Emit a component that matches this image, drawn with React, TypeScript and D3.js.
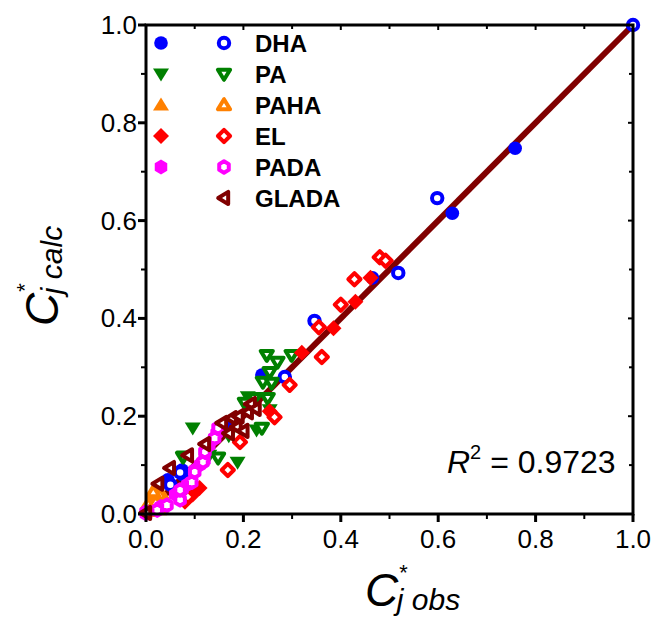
import * as d3 from "d3";

type Pt = [number, number];

// DHA
const dhaFilled: Pt[] = [[0.758, 0.748], [0.629, 0.615], [0.465, 0.483], [0.074, 0.09], [0.045, 0.07], [0.076, 0.08], [0.172, 0.178], [0.238, 0.284]];
const dhaOpen: Pt[] = [[1, 1], [0.598, 0.646], [0.518, 0.493], [0.346, 0.395], [0.285, 0.28], [0.07, 0.085], [0.05, 0.06]];
// PA
const paFilled: Pt[] = [[0.096, 0.176], [0.188, 0.106], [0.254, 0.213], [0.209, 0.24], [0.17, 0.16], [0.13, 0.12], [0.227, 0.172]];
const paOpen: Pt[] = [[0.248, 0.325], [0.299, 0.325], [0.27, 0.311], [0.254, 0.29], [0.24, 0.27], [0.258, 0.268], [0.203, 0.227], [0.223, 0.237], [0.25, 0.237], [0.238, 0.176], [0.148, 0.115], [0.076, 0.117]];
// PAHA
const pahaFilled: Pt[] = [[0.005, 0.01], [0.01, 0.02], [0.015, 0.03], [0.02, 0.04], [0.025, 0.035], [0.008, 0.005], [0.03, 0.045], [0.012, 0.012], [0.035, 0.02], [0.04, 0.03]];
const pahaOpen: Pt[] = [[0.005, 0.02], [0.02, 0.025], [0.028, 0.04], [0.015, 0.045], [0.03, 0.01]];
// EL
const elFilled: Pt[] = [[0.385, 0.38], [0.43, 0.434], [0.461, 0.483], [0.32, 0.33], [0.11, 0.053], [0.096, 0.04], [0.08, 0.025], [0.254, 0.21]];
const elOpen: Pt[] = [[0.48, 0.525], [0.492, 0.518], [0.428, 0.48], [0.4, 0.428], [0.355, 0.382], [0.361, 0.321], [0.295, 0.264], [0.264, 0.198], [0.193, 0.147], [0.168, 0.09], [0.086, 0.035]];
// PADA
const padaFilled: Pt[] = [[0.0, 0.0], [0.03, 0.015], [0.06, 0.04], [0.085, 0.06], [0.1, 0.09], [0.12, 0.11], [0.13, 0.14], [0.145, 0.165], [0.11, 0.1], [0.075, 0.05]];
const padaOpen: Pt[] = [[0.0, 0.004], [0.023, 0.008], [0.043, 0.018], [0.07, 0.029], [0.07, 0.049], [0.094, 0.065], [0.1, 0.086], [0.117, 0.106], [0.121, 0.127], [0.141, 0.155], [0.148, 0.176]];
// GLADA
const gladaOpen: Pt[] = [[0, 0.002], [0.025, 0.062], [0.049, 0.094], [0.086, 0.12], [0.121, 0.143], [0.156, 0.186], [0.176, 0.196], [0.186, 0.178], [0.19, 0.2], [0.209, 0.208], [0.2, 0.17], [0.215, 0.225], [0.17, 0.165], [0.225, 0.215]];

const ticks = [0, 0.2, 0.4, 0.6, 0.8, 1.0];
const minorTicks = [0.1, 0.3, 0.5, 0.7, 0.9];
const rSquared = "0.9723";

type Shape = "circle" | "down" | "up" | "diamond" | "hex" | "left";

const series: { name: string; color: string; shape: Shape; filled: Pt[] | null; open: Pt[] }[] = [
  { name: "DHA", color: "#0000ff", shape: "circle", filled: dhaFilled, open: dhaOpen },
  { name: "PA", color: "#008000", shape: "down", filled: paFilled, open: paOpen },
  { name: "PAHA", color: "#ff8000", shape: "up", filled: pahaFilled, open: pahaOpen },
  { name: "EL", color: "#ff0000", shape: "diamond", filled: elFilled, open: elOpen },
  { name: "PADA", color: "#ff00ff", shape: "hex", filled: padaFilled, open: padaOpen },
  { name: "GLADA", color: "#800000", shape: "left", filled: null, open: gladaOpen },
];

const W = 655, H = 619;
const x = d3.scaleLinear().domain([0, 1]).range([146, 633]);
const y = d3.scaleLinear().domain([0, 1]).range([514, 25]);
const font = "'Liberation Sans', Arial, sans-serif";

function shapePath(shape: Shape, s: number): string {
  const p = (pts: number[][]) => "M" + pts.map((q) => q.join(",")).join("L") + "Z";
  switch (shape) {
    case "circle":
      return d3.arc()({ innerRadius: 0, outerRadius: s * 0.9, startAngle: 0, endAngle: 2 * Math.PI }) as string;
    case "down":
      return p([[-s * 1.05, -s * 0.72], [s * 1.05, -s * 0.72], [0, s * 1.0]]);
    case "up":
      return p([[-s * 1.05, s * 0.72], [s * 1.05, s * 0.72], [0, -s * 1.0]]);
    case "left":
      return p([[s * 0.72, -s * 1.05], [s * 0.72, s * 1.05], [-s * 1.0, 0]]);
    case "diamond":
      return p([[0, -s * 1.05], [s * 1.05, 0], [0, s * 1.05], [-s * 1.05, 0]]);
    case "hex":
      return p(d3.range(6).map((i) => {
        const a = (Math.PI / 3) * i;
        return [Math.sin(a) * s * 0.95, -Math.cos(a) * s];
      }));
  }
}

function Marker({ shape, color, open, cx, cy }: { shape: Shape; color: string; open: boolean; cx: number; cy: number }) {
  const s = open ? 5.8 : 7.6;
  return (
    <path
      d={shapePath(shape, s)}
      transform={`translate(${cx},${cy})`}
      fill={open ? "#fff" : color}
      stroke={open ? color : "none"}
      strokeWidth={open ? 4 : 0}
      strokeLinejoin="round"
    />
  );
}

export default function App() {
  const legendRows = [43, 74, 105, 136, 167, 198];
  return (
    <svg width={W} height={H} style={{ position: "absolute", left: 0, top: 0, background: "#fff" }} fontFamily={font}>
      {/* identity line */}
      <line x1={x(0)} y1={y(0)} x2={x(1)} y2={y(1)} stroke="#800000" strokeWidth={6} />

      {series.map((sr) => (
        <g key={sr.name}>
          {sr.filled && sr.filled.map((d, i) => (
            <Marker key={"f" + i} shape={sr.shape} color={sr.color} open={false} cx={x(d[0])} cy={y(d[1])} />
          ))}
          {sr.open.map((d, i) => (
            <Marker key={"o" + i} shape={sr.shape} color={sr.color} open={true} cx={x(d[0])} cy={y(d[1])} />
          ))}
        </g>
      ))}

      {/* frame */}
      <rect x={x(0)} y={y(1)} width={x(1) - x(0)} height={y(0) - y(1)} fill="none" stroke="#000" strokeWidth={3} />

      {/* bottom / left ticks */}
      {ticks.map((t) => (
        <g key={"t" + t}>
          <line x1={x(t)} x2={x(t)} y1={y(0)} y2={y(0) + 8} stroke="#000" strokeWidth={3} />
          <line x1={x(0)} x2={x(0) - 8} y1={y(t)} y2={y(t)} stroke="#000" strokeWidth={3} />
          <text x={x(t)} y={y(0) + 34} fontSize={26} textAnchor="middle">{t.toFixed(1)}</text>
          <text x={x(0) - 9} y={y(t) + 9} fontSize={26} textAnchor="end">{t.toFixed(1)}</text>
          <line x1={x(t)} x2={x(t)} y1={y(1)} y2={y(1) + 5} stroke="#000" strokeWidth={2} />
          <line x1={x(1)} x2={x(1) - 5} y1={y(t)} y2={y(t)} stroke="#000" strokeWidth={2} />
        </g>
      ))}
      {minorTicks.map((t) => (
        <g key={"m" + t}>
          <line x1={x(t)} x2={x(t)} y1={y(0)} y2={y(0) + 5} stroke="#000" strokeWidth={2} />
          <line x1={x(0)} x2={x(0) - 5} y1={y(t)} y2={y(t)} stroke="#000" strokeWidth={2} />
          <line x1={x(t)} x2={x(t)} y1={y(1)} y2={y(1) + 4} stroke="#000" strokeWidth={2} />
          <line x1={x(1)} x2={x(1) - 4} y1={y(t)} y2={y(t)} stroke="#000" strokeWidth={2} />
        </g>
      ))}

      {/* legend */}
      {series.map((sr, i) => (
        <g key={"lg" + sr.name}>
          {sr.filled && <Marker shape={sr.shape} color={sr.color} open={false} cx={161} cy={legendRows[i]} />}
          <Marker shape={sr.shape} color={sr.color} open={true} cx={224} cy={legendRows[i]} />
          <text x={255} y={legendRows[i] + 9} fontSize={24} fontWeight="bold">{sr.name}</text>
        </g>
      ))}

      {/* R squared */}
      <text x={447} y={473} fontSize={32}>
        <tspan fontStyle="italic">R</tspan>
        <tspan fontSize={20} dy={-14}>2</tspan>
        <tspan dy={14}>{` = ${rSquared}`}</tspan>
      </text>

      {/* x axis title */}
      <text x={365} y={606} fontStyle="italic">
        <tspan fontSize={46}>C</tspan>
        <tspan fontSize={22} dx={0} dy={-26}>*</tspan>
        <tspan fontSize={30} dx={-10} dy={30}>j obs</tspan>
      </text>

      {/* y axis title */}
      <text transform="translate(58,326) rotate(-90)" fontStyle="italic">
        <tspan fontSize={46}>C</tspan>
        <tspan fontSize={22} dy={-26}>*</tspan>
        <tspan fontSize={30} dx={-10} dy={30}>j calc</tspan>
      </text>
    </svg>
  );
}
